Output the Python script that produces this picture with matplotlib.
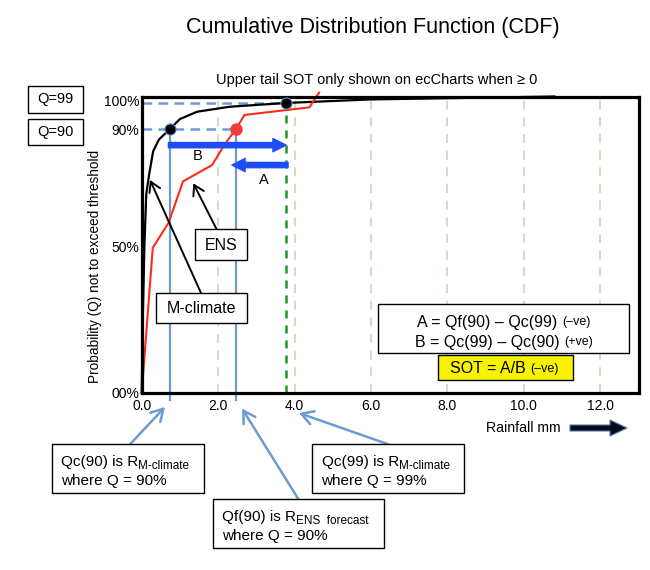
import matplotlib
matplotlib.use('Agg')
import matplotlib.pyplot as plt
from matplotlib.patches import Rectangle, FancyArrow

plt.rcParams['font.family'] = ['Liberation Sans', 'DejaVu Sans']
plt.rcParams['lines.scale_dashes'] = False

# ---------------- data ----------------
mclimate_rain = [0, 0.03, 0.07, 0.12, 0.20, 0.30, 0.45, 0.73, 1.00, 1.45, 2.30, 3.78, 6.00, 10.8]
mclimate_q = [0, 26, 50, 68, 75, 82.5, 86.5, 90, 93.5, 96, 97.7, 99, 100.2, 101.2]
ens_rain = [0, 0.29, 0.70, 1.08, 1.84, 2.18, 2.46, 2.69, 4.39, 4.64]
ens_q = [0, 49.6, 58, 72.2, 77.8, 85, 90, 94.9, 97.5, 102.5]
qc90 = 0.73   # M-climate rainfall at Q=90
qc99 = 3.78   # M-climate rainfall at Q=99
qf90 = 2.46   # ENS rainfall at Q=90
q90 = 90
q99 = 99
arrow_b_q = 84.6
arrow_a_q = 77.8
x_ticks = [0, 2, 4, 6, 8, 10, 12]
x_labels = ['0.0', '2.0', '4.0', '6.0', '8.0', '10.0', '12.0']
y_ticks = [0, 50, 90, 100]
y_labels = ['00%', '50%', '90%', '100%']

W, H = 650, 570
fig = plt.figure(figsize=(6.5, 5.7), dpi=100)


def rect(x0, y0, x1, y1):
    return [x0 / W, 1 - y1 / H, (x1 - x0) / W, (y1 - y0) / H]


ax = fig.add_axes(rect(141.7, 96.5, 638.5, 393))
ax.set_xlim(0, 13)
ax.set_ylim(0, 101.2)
for s in ax.spines.values():
    s.set_linewidth(2.3)
    s.set_zorder(6)
ax.set_xticks(x_ticks)
ax.set_xticklabels(x_labels, fontsize=10)
ax.set_yticks(y_ticks)
ax.set_yticklabels(y_labels, fontsize=10)
ax.tick_params(length=0)
ax.tick_params(axis='x', pad=4.5)
ax.tick_params(axis='y', pad=1.5)
ax.set_ylabel('Probability (Q) not to exceed threshold', fontsize=9.8)
ax.yaxis.set_label_coords(-0.080, 0.427)

grid_col = '#dcd8c4'
blue_l = '#6b9bd2'
for xv in x_ticks[1:]:
    ax.axvline(xv, color=grid_col, lw=1.5, dashes=(6.5, 5.5), zorder=1)

# green Qc(99) line
ax.axvline(qc99, color='#1a9a2a', lw=1.8, dashes=(5.8, 5), zorder=2)

# horizontal dashed Q lines
ax.plot([0, qf90], [q90, q90], color=blue_l, lw=1.8, dashes=(7, 4.5), zorder=2)
ax.plot([0, qc99], [q99, q99], color=blue_l, lw=1.8, dashes=(7, 4.5), zorder=2)

# vertical blue lines
ax.plot([qc90, qc90], [-2.4, q90], color=blue_l, lw=1.6, zorder=2, clip_on=False)
ax.plot([qf90, qf90], [-2.4, q90], color=blue_l, lw=1.6, zorder=2, clip_on=False)

# curves
ax.plot(mclimate_rain, mclimate_q, color='black', lw=1.6, zorder=3, clip_on=False)
ax.plot(ens_rain, ens_q, color='#ff2a1a', lw=1.5, zorder=3, clip_on=False)

# dots
ax.plot([qc90, qc99], [q90, q99], 'o', color='black', ms=8, mec='#5b8fd0', mew=0.8, zorder=7, clip_on=False)
ax.plot([qf90], [q90], 'o', color='#f23c3c', ms=8, mec='#f23c3c', zorder=7)

# A and B arrows
blue = '#1f4df5'
astyle = 'simple,head_length=0.68,head_width=0.68,tail_width=0.27'
ax.annotate('', xy=(qc99, arrow_b_q), xytext=(qc90 - 0.03, arrow_b_q),
            arrowprops=dict(arrowstyle=astyle, mutation_scale=14, color=blue, shrinkA=0, shrinkB=0), zorder=5)
ax.annotate('', xy=(qf90 - 0.1, arrow_a_q), xytext=(qc99 + 0.05, arrow_a_q),
            arrowprops=dict(arrowstyle=astyle, mutation_scale=14, color=blue, shrinkA=0, shrinkB=0), zorder=5)
ax.text(1.47, 80.9, 'B', fontsize=10.5, ha='center', va='center', zorder=5)
ax.text(3.2, 72.6, 'A', fontsize=10.5, ha='center', va='center', zorder=5)

# ---------------- overlay in pixel coordinates ----------------
ov = fig.add_axes([0, 0, 1, 1], zorder=10)
ov.set_xlim(0, W)
ov.set_ylim(H, 0)
ov.axis('off')
ov.patch.set_alpha(0)

renderer = fig.canvas.get_renderer()


def box(x0, y0, x1, y1, fc='white', lw=1.0):
    ov.add_patch(Rectangle((x0, y0), x1 - x0, y1 - y0, fc=fc, ec='black', lw=lw, zorder=11))


def rich(x, y, parts, ha='left'):
    # parts: list of (text, fontsize, dy)
    widths = []
    arts = []
    for s, fs, dy in parts:
        t = ov.text(0, 0, s, fontsize=fs, ha='left', va='center', zorder=12)
        widths.append(t.get_window_extent(renderer=renderer).width)
        arts.append(t)
    total = sum(widths)
    cx = x - total / 2 if ha == 'center' else x
    for (s, fs, dy), t, w in zip(parts, arts, widths):
        t.set_position((cx, y + dy))
        cx += w


fig.text(372.5 / W, 1 - 28 / H, 'Cumulative Distribution Function (CDF)', fontsize=15.5, ha='center', va='center')
fig.text(376.5 / W, 1 - 80 / H, 'Upper tail SOT only shown on ecCharts when \u2265 0', fontsize=10.5, ha='center', va='center')

# Q boxes
box(28.3, 86, 82.7, 112.7)
ov.text(55.5, 99.5, 'Q=99', fontsize=10.5, ha='center', va='center', zorder=12)
box(28.3, 119, 82.7, 145)
ov.text(55.5, 132, 'Q=90', fontsize=10.5, ha='center', va='center', zorder=12)

# ENS / M-climate labels with arrows
ap_black = dict(arrowstyle='->,head_length=0.5,head_width=0.3', color='black', lw=1.4, shrinkA=0, shrinkB=0, mutation_scale=14)
ov.annotate('', xy=(193.3, 183.3), xytext=(218, 232), arrowprops=ap_black, zorder=10.5)
ov.annotate('', xy=(150, 180), xytext=(201, 293), arrowprops=ap_black, zorder=10.5)
box(195, 229, 246.7, 260)
ov.text(221, 245, 'ENS', fontsize=11.5, ha='center', va='center', zorder=12)
box(156, 293.3, 246.7, 322.7)
ov.text(201.3, 308.5, 'M-climate', fontsize=11.5, ha='center', va='center', zorder=12)

# formula boxes
box(378.3, 304.3, 629.3, 352.7)
rich(504, 322, [('A = Qf(90) \u2013 Qc(99) ', 11.5, 0), ('(\u2013ve)', 9, 0.5)], ha='center')
rich(504, 342, [('B = Qc(99) \u2013 Qc(90) ', 11.5, 0), ('(+ve)', 9, 0.5)], ha='center')
box(437.7, 355, 573.3, 380, fc='#f8f400')
rich(504, 368.5, [('SOT = A/B ', 11.5, 0), ('(\u2013ve)', 9, 0.5)], ha='center')

# bottom explanation boxes with arrows
ap_blue = dict(arrowstyle='->,head_length=0.6,head_width=0.35', color=blue_l, lw=1.8, shrinkA=0, shrinkB=0, mutation_scale=14)
ov.annotate('', xy=(165, 407), xytext=(130, 444.3), arrowprops=ap_blue, zorder=10.5)
ov.annotate('', xy=(242, 408.5), xytext=(298.3, 499), arrowprops=ap_blue, zorder=10.5)
ov.annotate('', xy=(299, 413), xytext=(388.3, 444.3), arrowprops=ap_blue, zorder=10.5)

box(52.3, 444.3, 204.3, 493.3)
rich(61, 462, [('Qc(90) is R', 11, 0), ('M-climate', 8.5, 4)])
rich(61, 480.5, [('where Q = 90%', 11, 0)])
box(312.3, 444.3, 464.3, 493.3)
rich(321.5, 462, [('Qc(99) is R', 11, 0), ('M-climate', 8.5, 4)])
rich(321.5, 480.5, [('where Q = 99%', 11, 0)])
box(213.3, 499, 384, 548.3)
rich(222.3, 516.5, [('Qf(90) is R', 11, 0), ('ENS  forecast', 8.5, 4)])
rich(222.3, 536, [('where Q = 90%', 11, 0)])

# Rainfall mm axis arrow
ov.text(523.5, 428, 'Rainfall mm', fontsize=10.2, ha='center', va='center', zorder=12)
ov.add_patch(FancyArrow(570, 428, 57, 0, width=6, head_width=16, head_length=17,
                        length_includes_head=True, fc='#0a0a14', ec='#4a7ab8', lw=0.8, zorder=12))

fig.savefig('out.png', dpi=100)
